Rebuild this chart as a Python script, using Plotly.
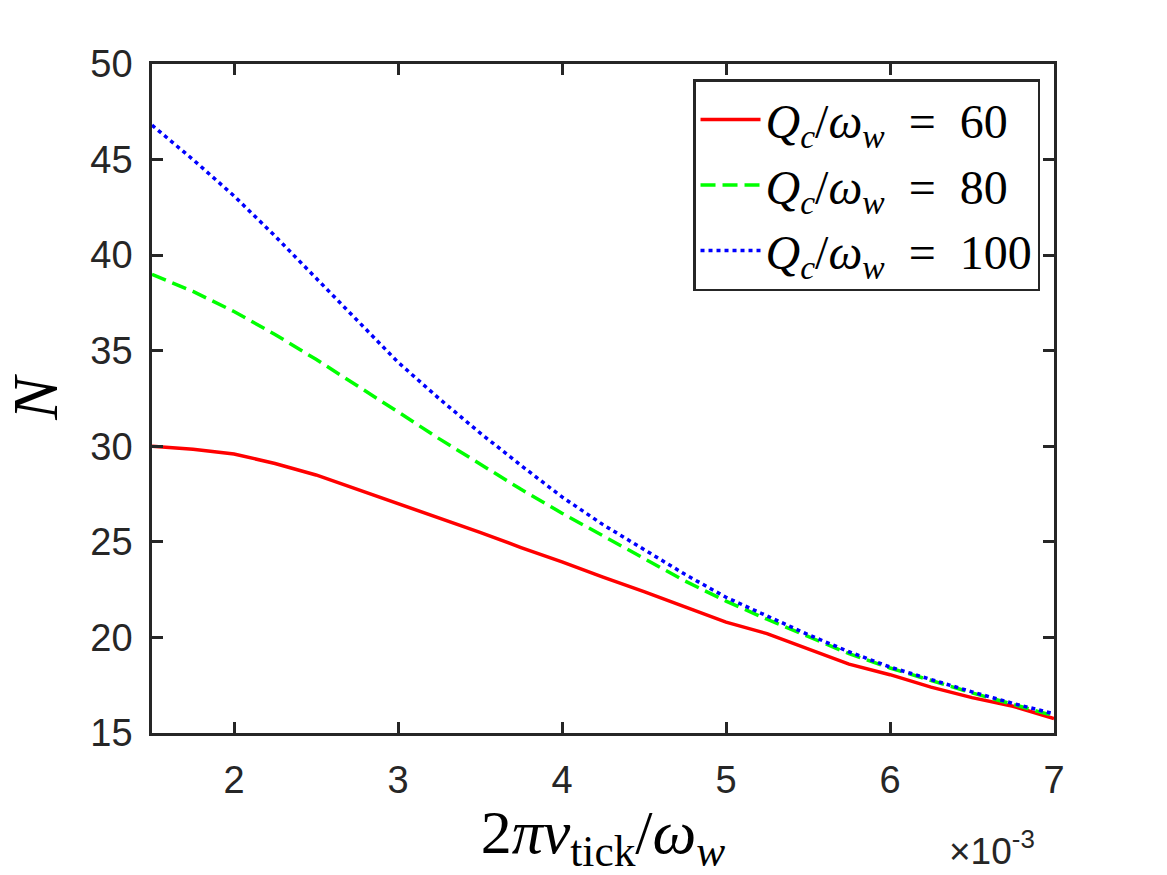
import plotly.graph_objects as go

# x values in units of 1e-3 (2*pi*nu_tick/omega_w)
x_vals = [1.5, 1.75, 2.0, 2.25, 2.5, 2.75, 3.0, 3.25, 3.5, 3.75, 4.0, 4.25,
          4.5, 4.75, 5.0, 5.25, 5.5, 5.75, 6.0, 6.25, 6.5, 6.75, 7.0]

n_q60 = [30.0, 29.85, 29.6, 29.1, 28.5, 27.75, 27.0, 26.25, 25.5, 24.7, 23.95, 23.15,
         22.4, 21.6, 20.8, 20.2, 19.4, 18.6, 18.05, 17.4, 16.85, 16.4, 15.75]
n_q80 = [39.0, 38.1, 37.05, 35.85, 34.55, 33.2, 31.8, 30.4, 29.05, 27.75, 26.5, 25.3,
         24.1, 22.95, 21.9, 20.95, 20.05, 19.15, 18.4, 17.75, 17.1, 16.5, 15.9]
n_q100 = [46.8, 45.0, 43.1, 41.0, 38.8, 36.6, 34.4, 32.5, 30.7, 29.0, 27.35, 25.9,
          24.6, 23.3, 22.1, 21.1, 20.15, 19.25, 18.45, 17.8, 17.15, 16.55, 16.0]

series_labels = ["60", "80", "100"]
x_ticks = [2, 3, 4, 5, 6, 7]
y_ticks = [15, 20, 25, 30, 35, 40, 45, 50]

AX = "#262626"
SERIF = "Liberation Serif, DejaVu Serif, serif"
SANS = "Liberation Sans, Arial, sans-serif"

def leg_name(v):
    return ("<i>Q</i><sub><i>c</i></sub>/<i>ω</i><sub><i>w</i></sub>\u2002=\u2002" + v)

fig = go.Figure()
fig.add_trace(go.Scatter(x=x_vals, y=n_q60, mode="lines", name=leg_name(series_labels[0]),
                         line=dict(color="#ff0000", width=3.5, dash="solid")))
fig.add_trace(go.Scatter(x=x_vals, y=n_q80, mode="lines", name=leg_name(series_labels[1]),
                         line=dict(color="#00ff00", width=3.5, dash="15px,7px")))
fig.add_trace(go.Scatter(x=x_vals, y=n_q100, mode="lines", name=leg_name(series_labels[2]),
                         line=dict(color="#0000ff", width=3.5, dash="4px,4px")))

axis_common = dict(
    showline=True, linecolor=AX, linewidth=2.5, mirror="ticks",
    ticks="inside", ticklen=11, tickwidth=2.5, tickcolor=AX,
    showgrid=False, zeroline=False,
    tickfont=dict(family=SANS, size=38, color=AX),
)

fig.update_xaxes(range=[1.5, 7], tickvals=x_ticks, ticktext=[str(t) for t in x_ticks],
                 ticklabelstandoff=12,
                 title=dict(text="2<i>π</i><i>ν</i><sub>tick</sub>/<i>ω</i><sub><i>w</i></sub>",
                            font=dict(family=SERIF, size=62, color="#000000"), standoff=8),
                 **axis_common)
fig.update_yaxes(range=[15, 50], tickvals=y_ticks, ticktext=[str(t) for t in y_ticks],
                 ticklabelstandoff=9,
                 title=dict(text="<i>N</i>", font=dict(family=SERIF, size=64, color="#000000"),
                            standoff=12),
                 **axis_common)

fig.add_annotation(text="×10<sup>-3</sup>", xref="paper", yref="paper",
                   x=0.981, y=-0.172, xanchor="right", yanchor="middle", showarrow=False,
                   font=dict(family=SANS, size=37, color=AX))

fig.update_layout(
    width=1167, height=875,
    margin=dict(l=152, r=113, t=64, b=142),
    paper_bgcolor="white", plot_bgcolor="white",
    showlegend=True,
    legend=dict(x=0.9845, y=0.977, xanchor="right", yanchor="top",
                bgcolor="white", bordercolor=AX, borderwidth=2.5,
                font=dict(family=SERIF, size=48, color="#000000"),
                itemwidth=60, tracegroupgap=0),
)

fig.write_html("out.html")
